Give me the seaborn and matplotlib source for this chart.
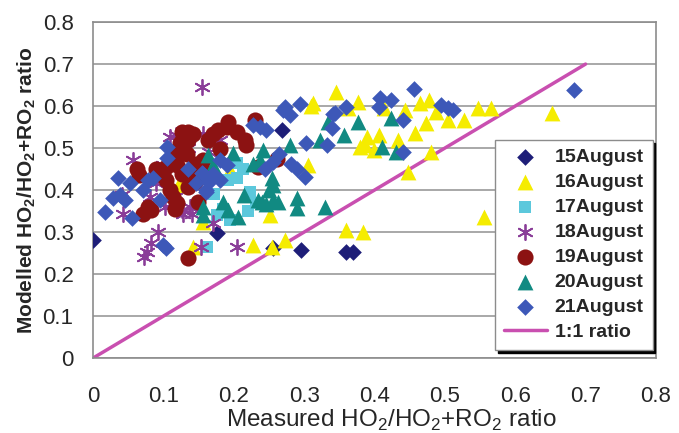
import pandas as pd
import matplotlib
matplotlib.use("Agg")
import matplotlib.pyplot as plt
import seaborn as sns

# ---- data ----
aug15_x = [0.000, 0.176, 0.256, 0.295, 0.359, 0.370, 0.269]
aug15_y = [0.281, 0.297, 0.262, 0.257, 0.252, 0.252, 0.543]

aug16_x = [0.142, 0.228, 0.255, 0.273, 0.252, 0.156, 0.123, 0.124, 0.195, 0.306,
           0.310, 0.346, 0.363, 0.377, 0.413, 0.444, 0.465, 0.477, 0.487, 0.473,
           0.458, 0.504, 0.527, 0.547, 0.565, 0.653, 0.390, 0.406, 0.387, 0.434,
           0.399, 0.480, 0.447, 0.555, 0.359, 0.384, 0.313, 0.380]
aug16_y = [0.265, 0.269, 0.264, 0.281, 0.340, 0.325, 0.420, 0.412, 0.448, 0.459,
           0.600, 0.633, 0.595, 0.610, 0.595, 0.590, 0.607, 0.614, 0.586, 0.560,
           0.536, 0.567, 0.567, 0.595, 0.595, 0.583, 0.526, 0.531, 0.507, 0.519,
           0.495, 0.490, 0.443, 0.336, 0.305, 0.300, 0.607, 0.502]

aug17_x = [0.205, 0.192, 0.205, 0.223, 0.231, 0.195, 0.176, 0.162, 0.213, 0.172,
           0.220, 0.185]
aug17_y = [0.464, 0.424, 0.428, 0.395, 0.369, 0.329, 0.340, 0.264, 0.450, 0.390,
           0.350, 0.355]

aug18_x = [0.155, 0.057, 0.043, 0.092, 0.083, 0.073, 0.077, 0.154, 0.204, 0.171,
           0.116, 0.102, 0.128, 0.140, 0.081, 0.090, 0.109, 0.118, 0.156, 0.180,
           0.041, 0.127, 0.138, 0.135, 0.165, 0.100]
aug18_y = [0.645, 0.471, 0.344, 0.300, 0.273, 0.241, 0.252, 0.265, 0.265, 0.321,
           0.384, 0.360, 0.344, 0.344, 0.384, 0.416, 0.527, 0.530, 0.534, 0.519,
           0.388, 0.352, 0.360, 0.500, 0.490, 0.460]

aug19_x = [0.062, 0.066, 0.071, 0.083, 0.114, 0.126, 0.135, 0.142, 0.123, 0.133,
           0.116, 0.104, 0.095, 0.104, 0.126, 0.140, 0.147, 0.135, 0.114, 0.116,
           0.135, 0.149, 0.171, 0.178, 0.192, 0.204, 0.216, 0.218, 0.230, 0.180,
           0.164, 0.156, 0.261, 0.110, 0.145, 0.155, 0.120, 0.090, 0.078, 0.120,
           0.135, 0.190, 0.235, 0.160]
aug19_y = [0.451, 0.435, 0.344, 0.352, 0.491, 0.538, 0.538, 0.534, 0.511, 0.487,
           0.479, 0.455, 0.439, 0.424, 0.439, 0.447, 0.463, 0.408, 0.384, 0.356,
           0.238, 0.372, 0.534, 0.542, 0.562, 0.538, 0.519, 0.507, 0.566, 0.499,
           0.519, 0.471, 0.475, 0.400, 0.420, 0.450, 0.460, 0.450, 0.360, 0.370,
           0.520, 0.550, 0.455, 0.430]

aug20_x = [0.164, 0.199, 0.242, 0.238, 0.227, 0.255, 0.256, 0.256, 0.240, 0.214,
           0.185, 0.192, 0.206, 0.157, 0.157, 0.263, 0.290, 0.290, 0.329, 0.322,
           0.334, 0.280, 0.376, 0.423, 0.411, 0.430, 0.356, 0.246, 0.235, 0.170,
           0.250]
aug20_y = [0.483, 0.488, 0.495, 0.471, 0.463, 0.428, 0.412, 0.376, 0.371, 0.388,
           0.371, 0.352, 0.336, 0.340, 0.360, 0.371, 0.381, 0.357, 0.360, 0.519,
           0.562, 0.507, 0.562, 0.571, 0.502, 0.490, 0.531, 0.368, 0.376, 0.460,
           0.400]

aug21_x = [0.017, 0.028, 0.038, 0.036, 0.045, 0.052, 0.055, 0.071, 0.078, 0.085,
           0.095, 0.100, 0.104, 0.105, 0.105, 0.135, 0.147, 0.156, 0.161, 0.171,
           0.180, 0.190, 0.180, 0.227, 0.246, 0.256, 0.270, 0.280, 0.282, 0.294,
           0.301, 0.303, 0.332, 0.341, 0.265, 0.273, 0.344, 0.359, 0.340, 0.441,
           0.440, 0.456, 0.408, 0.423, 0.406, 0.494, 0.504, 0.511, 0.683, 0.238,
           0.155, 0.160, 0.165, 0.245, 0.290]
aug21_y = [0.348, 0.380, 0.388, 0.429, 0.376, 0.416, 0.333, 0.400, 0.424, 0.429,
           0.376, 0.269, 0.261, 0.502, 0.476, 0.451, 0.416, 0.439, 0.396, 0.439,
           0.471, 0.459, 0.424, 0.554, 0.542, 0.467, 0.590, 0.578, 0.463, 0.606,
           0.432, 0.511, 0.507, 0.582, 0.487, 0.598, 0.583, 0.598, 0.548, 0.567,
           0.490, 0.640, 0.619, 0.614, 0.598, 0.602, 0.595, 0.590, 0.638, 0.550,
           0.440, 0.400, 0.420, 0.450, 0.450]

ratio_x = [0.0, 0.7]
ratio_y = [0.0, 0.7]

series = [
    ("15August", aug15_x, aug15_y, "#1E1E78", "D", 72),
    ("16August", aug16_x, aug16_y, "#F5EC00", "^", 130),
    ("17August", aug17_x, aug17_y, "#5CC8DC", "s", 70),
    ("18August", aug18_x, aug18_y, "#8A3D98", (6, 2, 0), 120),
    ("19August", aug19_x, aug19_y, "#8C1212", "o", 135),
    ("20August", aug20_x, aug20_y, "#118A82", "^", 130),
    ("21August", aug21_x, aug21_y, "#3D58B8", "D", 72),
]

sns.set_style("white")
plt.rcParams["font.family"] = ["Liberation Sans", "DejaVu Sans"]
plt.rcParams["mathtext.fontset"] = "custom"
plt.rcParams["mathtext.rm"] = "Liberation Sans"
plt.rcParams["mathtext.bf"] = "Liberation Sans:bold"

fig, ax = plt.subplots(figsize=(6.79, 4.33), dpi=100)
fig.subplots_adjust(left=0.137, right=0.966, bottom=0.173, top=0.949)

for label, xs, ys, col, mk, sz in series:
    df = pd.DataFrame({"x": xs, "y": ys})
    if mk == (6, 2, 0):
        sns.scatterplot(data=df, x="x", y="y", ax=ax, color=col, marker=mk,
                        s=sz, linewidth=1.3, label=label, zorder=3)
    else:
        sns.scatterplot(data=df, x="x", y="y", ax=ax, color=col, marker=mk,
                        s=sz, linewidth=0, label=label, zorder=3)

line_df = pd.DataFrame({"x": ratio_x, "y": ratio_y})
sns.lineplot(data=line_df, x="x", y="y", ax=ax, color="#C94FB0", linewidth=2.5,
             label="1:1 ratio", zorder=2)

ax.set_xlim(0, 0.8)
ax.set_ylim(0, 0.8)
ax.set_xticks([i / 10 for i in range(9)])
ax.set_yticks([i / 10 for i in range(9)])
ax.set_xticklabels(["0"] + [f"{i/10:.1f}" for i in range(1, 9)])
ax.set_yticklabels(["0"] + [f"{i/10:.1f}" for i in range(1, 9)])
ax.yaxis.grid(True, color="#9A9A9A", linewidth=1.2)
ax.set_axisbelow(True)
for sp in ax.spines.values():
    sp.set_color("#8C8C8C")
    sp.set_linewidth(1.2)
ax.tick_params(axis="both", labelsize=16, length=4, color="#8C8C8C", direction="out")
ax.tick_params(axis="x", pad=16)
ax.tick_params(axis="y", pad=10)

ax.set_xlabel("Measured HO$_2$/HO$_2$+RO$_2$ ratio", fontsize=17.5)
ax.xaxis.set_label_coords(0.53, -0.148)
ax.set_ylabel(r"Modelled HO$_\mathbf{2}$/HO$_\mathbf{2}$+RO$_\mathbf{2}$ ratio",
              fontsize=15, fontweight="bold", labelpad=3)

leg = ax.legend(loc="lower right", bbox_to_anchor=(0.994, 0.024), frameon=True,
                fancybox=False, edgecolor="#8C8C8C", framealpha=1,
                shadow={"color": "black", "alpha": 1},
                prop={"weight": "bold", "size": 14}, labelspacing=0.38,
                handlelength=2.2, handletextpad=0.4, borderpad=0.45,
                borderaxespad=0)

plt.savefig("out.png", dpi=100)
